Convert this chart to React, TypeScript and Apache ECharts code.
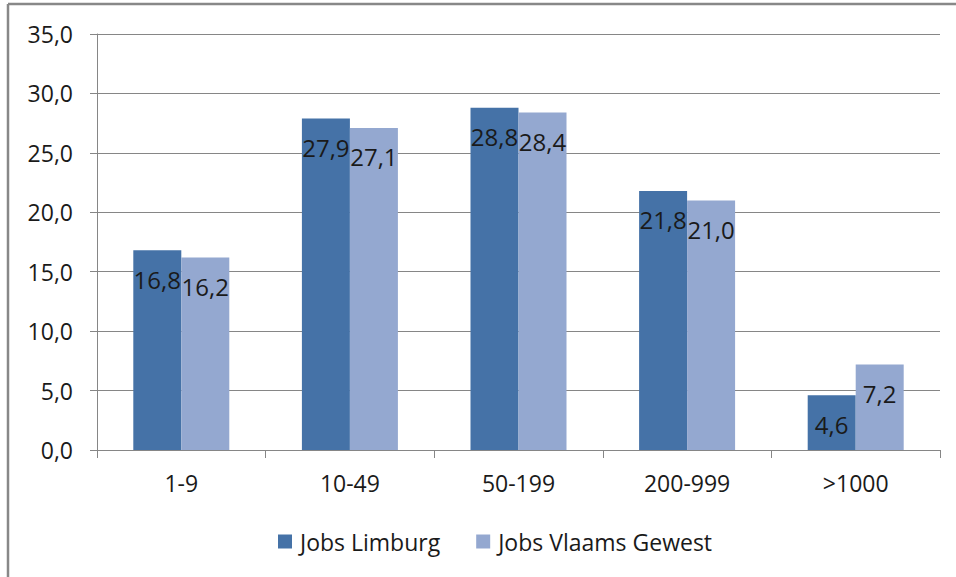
import React, { useEffect, useRef } from "react";
import * as echarts from "echarts";

const categories = ["1-9", "10-49", "50-199", "200-999", ">1000"];
const seriesNames = ["Jobs Limburg", "Jobs Vlaams Gewest"];
const limburg = [16.8, 27.9, 28.8, 21.8, 4.6];
const vlaams = [16.2, 27.1, 28.4, 21.0, 7.2];
const colors = ["#4572A7", "#94A8D0"];

const FONT = "Open Sans";
const fmt = (v: number) => v.toFixed(1).replace(".", ",");

export default function App() {
  const ref = useRef<HTMLDivElement>(null);
  useEffect(() => {
    if (!ref.current) return;
    const chart = echarts.init(ref.current, undefined, { renderer: "svg" });
    const label = {
      show: true,
      position: "insideTop" as const,
      distance: 17,
      fontSize: 24,
      fontFamily: FONT,
      color: "#1a1a1a",
      formatter: (p: any) => fmt(p.value),
    };
    chart.setOption({
      animation: false,
      backgroundColor: "#ffffff",
      textStyle: { fontFamily: FONT },
      grid: { left: 97, right: 16, top: 34, bottom: 127, containLabel: false },
      legend: {
        bottom: 19,
        left: 273,
        itemWidth: 14,
        itemHeight: 14,
        itemGap: 36,
        icon: "rect",
        textStyle: { fontSize: 23, fontFamily: FONT, color: "#1a1a1a", padding: [0, 0, 0, 3] },
        data: seriesNames,
      },
      xAxis: {
        type: "category",
        data: categories,
        axisLine: { lineStyle: { color: "#868686", width: 1 } },
        axisTick: { show: true, alignWithLabel: false, length: 8, lineStyle: { color: "#868686" } },
        axisLabel: { fontSize: 23, fontFamily: FONT, color: "#1a1a1a", margin: 21 },
      },
      yAxis: {
        type: "value",
        min: 0,
        max: 35,
        interval: 5,
        axisLine: { show: true, lineStyle: { color: "#868686", width: 1 } },
        axisTick: { show: true, length: 7, lineStyle: { color: "#868686" } },
        splitLine: { lineStyle: { color: "#868686", width: 1 } },
        axisLabel: { fontSize: 23, fontFamily: FONT, color: "#1a1a1a", margin: 24, formatter: (v: number) => fmt(v) },
      },
      series: [
        {
          name: seriesNames[0],
          type: "bar",
          data: limburg,
          barWidth: 48,
          barGap: "0%",
          itemStyle: { color: colors[0] },
          label,
        },
        {
          name: seriesNames[1],
          type: "bar",
          data: vlaams,
          barWidth: 48,
          barGap: "0%",
          itemStyle: { color: colors[1] },
          label,
        },
      ],
      graphic: [
        { type: "line", shape: { x1: 8, y1: 4, x2: 956, y2: 4 }, style: { stroke: "#888888", lineWidth: 2.5 } },
        { type: "line", shape: { x1: 8, y1: 4, x2: 8, y2: 577 }, style: { stroke: "#888888", lineWidth: 2.5 } },
      ],
    });
    return () => chart.dispose();
  }, []);
  return <div ref={ref} style={{ width: 956, height: 577, position: "absolute", left: 0, top: 0 }} />;
}
